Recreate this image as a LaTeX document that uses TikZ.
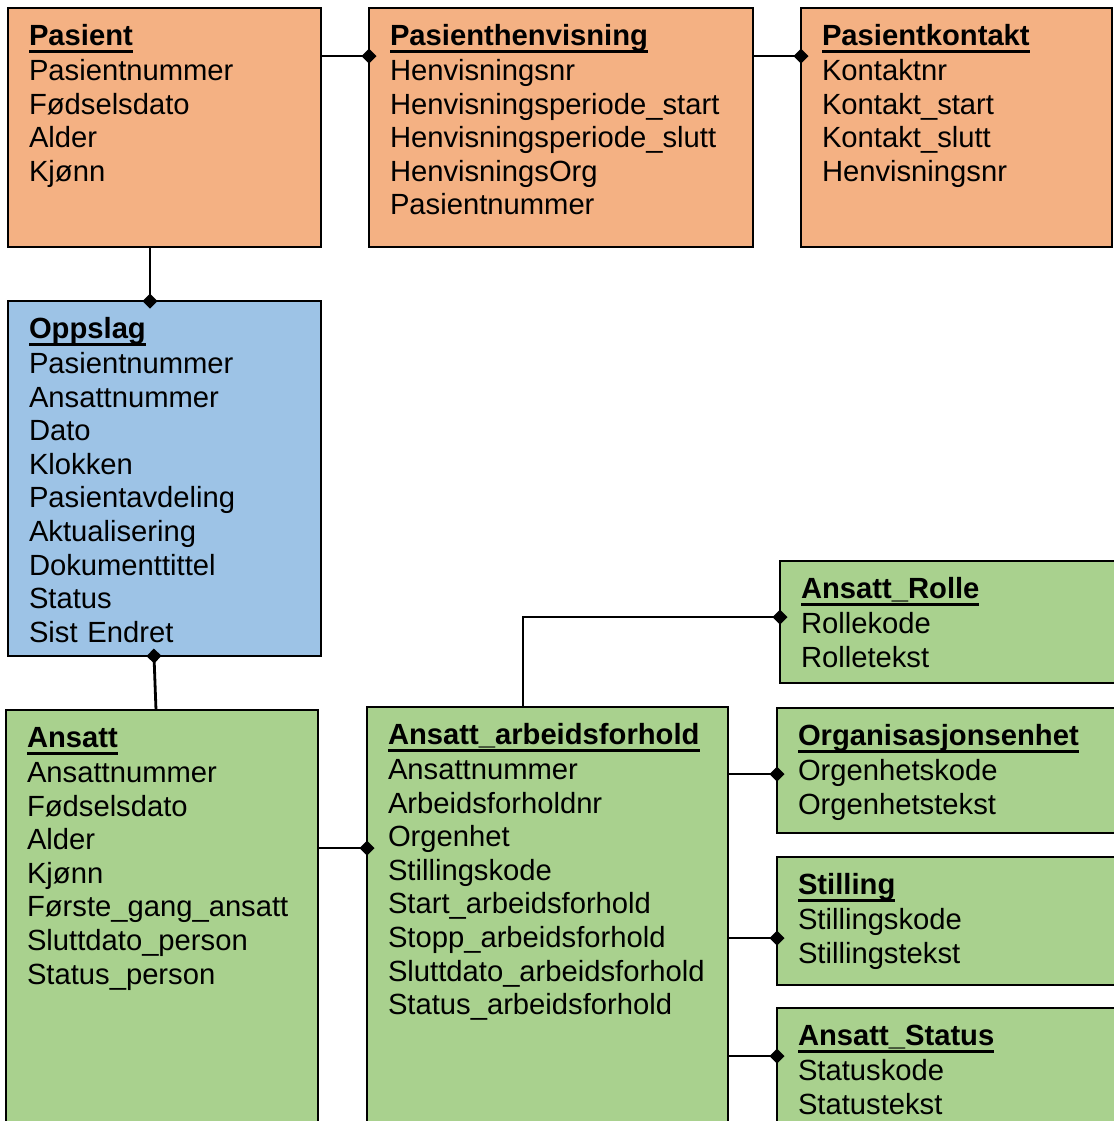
\documentclass[tikz,border=0pt]{standalone}
\usepackage{fontspec}
\setmainfont{Liberation Sans}
\usepackage{tikz}
\usetikzlibrary{arrows.meta}
\definecolor{entorange}{HTML}{F4B183}
\definecolor{entblue}{HTML}{9DC3E6}
\definecolor{entgreen}{HTML}{A9D18E}
\newcommand{\enttitle}[1]{{\bfseries\setbox0\hbox{#1}\rlap{\rule[-3.5pt]{\wd0}{1.5pt}}\box0}}
\tikzset{
	entity/.style={draw=black, line width=1pt, anchor=north west, outer sep=0pt,
		inner xsep=10.5pt, inner ysep=0pt, align=left, text height=18.75pt,
		font=\fontsize{14.6pt}{16.8pt}\selectfont},
	rel/.style={line width=1.4pt, -{Diamond[length=7.5pt,width=7.5pt]}, shorten >=-3.75pt}
}
\begin{document}
\begin{tikzpicture}[x=0.5pt,y=-0.5pt]
		\path[use as bounding box] (0,0) rectangle (1114,1121);
		\clip (0,0) rectangle (1114,1121);
		
		%% Patient side
		\node[entity, fill=entorange, text width=135.5pt, text depth=100.75pt] (pasient) at (8,8)
		{\enttitle{Pasient}\\[0.7pt] Pasientnummer\\ Fødselsdato\\ Alder\\ Kjønn};
		\node[entity, fill=entorange, text width=171pt, text depth=100.75pt] (henvisning) at (369,8)
		{\enttitle{Pasienthenvisning}\\[0.7pt] Henvisningsnr\\ Henvisningsperiode\_start\\
			Henvisningsperiode\_slutt\\ HenvisningsOrg\\ Pasientnummer};
		\node[entity, fill=entorange, text width=134.5pt, text depth=100.75pt] (kontakt) at (801,8)
		{\enttitle{Pasientkontakt}\\[0.7pt] Kontaktnr\\ Kontakt\_start\\ Kontakt\_slutt\\ Henvisningsnr};
		\node[entity, fill=entblue, text width=135.5pt, text depth=158.75pt] (oppslag) at (8,301)
		{\enttitle{Oppslag}\\[0.7pt] Pasientnummer\\ Ansattnummer\\ Dato\\ Klokken\\ Pasientavdeling\\
			Aktualisering\\ Dokumenttittel\\ Status\\ Sist Endret};
		
		%% Employee side
		\node[entity, fill=entgreen, text width=135pt, text depth=196.25pt] (ansatt) at (6,710)
		{\enttitle{Ansatt}\\[0.7pt] Ansattnummer\\ Fødselsdato\\ Alder\\ Kjønn\\ Første\_gang\_ansatt\\
			Sluttdato\_person\\ Status\_person};
		\node[entity, fill=entgreen, text width=159.5pt, text depth=196.25pt] (arbforhold) at (367,707)
		{\enttitle{Ansatt\_arbeidsforhold}\\[0.7pt] Ansattnummer\\ Arbeidsforholdnr\\ Orgenhet\\
			Stillingskode\\ Start\_arbeidsforhold\\ Stopp\_arbeidsforhold\\
			Sluttdato\_arbeidsforhold\\ Status\_arbeidsforhold};
		\node[entity, fill=entgreen, text width=159pt, text depth=42.25pt] (rolle) at (780,561)
		{\enttitle{Ansatt\_Rolle}\\[0.7pt] Rollekode\\ Rolletekst};
		\node[entity, fill=entgreen, text width=159pt, text depth=43.75pt] (orgenhet) at (777,708)
		{\enttitle{Organisasjonsenhet}\\[0.7pt] Orgenhetskode\\ Orgenhetstekst};
		\node[entity, fill=entgreen, text width=159pt, text depth=45.25pt] (stilling) at (777,857)
		{\enttitle{Stilling}\\[0.7pt] Stillingskode\\ Stillingstekst};
		\node[entity, fill=entgreen, text width=159pt, text depth=46.25pt] (status) at (777,1008)
		{\enttitle{Ansatt\_Status}\\[0.7pt] Statuskode\\ Statustekst};
		
		% relations, diamond at the referencing table
		\draw[rel] ([yshift=-24pt]pasient.north east) -- ([yshift=-24pt]henvisning.north west);
		\draw[rel] ([yshift=-24pt]henvisning.north east) -- ([yshift=-24pt]kontakt.north west);
		\draw[rel] ([xshift=71pt]pasient.south west) -- ([xshift=71pt]oppslag.north west);
		\draw[rel] ([xshift=75pt]ansatt.north west) -- ([xshift=73pt]oppslag.south west);
		\draw[rel] ([yshift=-69pt]ansatt.north east) -- ([yshift=-70.5pt]arbforhold.north west);
		\draw[rel] ([xshift=78pt]arbforhold.north west) |- ([yshift=-28pt]rolle.north west);
		\draw[rel] ([yshift=-33.5pt]arbforhold.north east) -- ([yshift=-33pt]orgenhet.north west);
		\draw[rel] ([yshift=-115.5pt]arbforhold.north east) -- ([yshift=-40.5pt]stilling.north west);
		\draw[rel] ([yshift=-174.5pt]arbforhold.north east) -- ([yshift=-24pt]status.north west);
	\end{tikzpicture}
\end{document}
